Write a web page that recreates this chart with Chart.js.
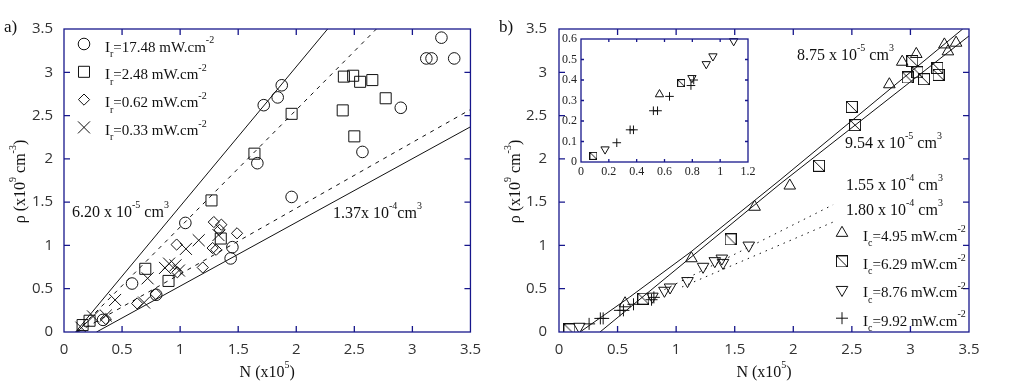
<!DOCTYPE html>
<html>
<head>
<meta charset="utf-8">
<script src="https://cdn.jsdelivr.net/npm/chart.js@4.4.1/dist/chart.umd.min.js"></script>
<style>
html,body{margin:0;padding:0;background:#fff;}
#wrap{position:relative;width:1035px;height:391px;overflow:hidden;background:#fff;}
canvas{position:absolute;display:block;}
</style>
</head>
<body>
<div id="wrap">
<canvas id="chartA" width="490" height="391" style="left:0;top:0"></canvas>
<canvas id="chartB" width="545" height="391" style="left:490px;top:0"></canvas>
<canvas id="chartI" width="230" height="170" style="left:540px;top:20px"></canvas>
</div>
<script>
// ================= DATA =================
const mainTicks   = [0, 0.5, 1, 1.5, 2, 2.5, 3, 3.5];
const insetXTicks = [0, 0.2, 0.4, 0.6, 0.8, 1, 1.2];
const insetYTicks = [0, 0.1, 0.2, 0.3, 0.4, 0.5, 0.6];

// ---- panel a) ----
const aLegendValues = ['17.48', '2.48', '0.62', '0.33'];
// I_r = 17.48 mW.cm-2 (circles)
const aCircleX = [0.336, 0.586, 0.794, 1.045, 1.435, 1.45, 1.665, 1.72, 1.84, 1.875, 1.96, 2.57, 2.90, 3.12, 3.165, 3.25, 3.36];
const aCircleY = [0.14, 0.56, 0.43, 1.26, 0.85, 0.98, 1.95, 2.62, 2.71, 2.85, 1.56, 2.08, 2.59, 3.16, 3.16, 3.40, 3.16];
// I_r = 2.48 mW.cm-2 (squares)
const aSquareX = [0.16, 0.22, 0.70, 0.90, 1.27, 1.35, 1.64, 1.96, 2.40, 2.41, 2.49, 2.50, 2.55, 2.655, 2.77];
const aSquareY = [0.08, 0.13, 0.73, 0.59, 1.52, 1.08, 2.06, 2.52, 2.56, 2.95, 2.96, 2.26, 2.89, 2.91, 2.70];
// I_r = 0.62 mW.cm-2 (diamonds)
const aDiamondX = [0.36, 0.63, 0.79, 0.97, 0.976, 1.195, 1.28, 1.29, 1.31, 1.34, 1.355, 1.49];
const aDiamondY = [0.15, 0.33, 0.44, 1.01, 0.69, 0.745, 0.97, 1.27, 0.95, 1.18, 1.24, 1.14];
// I_r = 0.33 mW.cm-2 (crosses)
const aCrossX = [0.15, 0.25, 0.36, 0.44, 0.69, 0.72, 0.87, 0.905, 0.96, 0.99, 1.05, 1.16, 1.33];
const aCrossY = [0.05, 0.18, 0.19, 0.37, 0.34, 0.62, 0.74, 0.79, 0.77, 0.71, 0.96, 1.06, 1.12];
// fitted lines
const aFitSteepX   = [0.10, 2.27];  const aFitSteepY   = [0, 3.5];   // 6.20e-5 cm3 (solid)
const aFitDashHiX  = [0.105, 2.69]; const aFitDashHiY  = [0, 3.5];   // dashed
const aFitDashLoX  = [0.12, 3.5];   const aFitDashLoY  = [0, 2.57];  // dashed
const aFitShallowX = [0.28, 3.5];   const aFitShallowY = [0, 2.37];  // 1.37e-4 cm3 (solid)

// ---- panel b) ----
const bLegendValues = ['4.95', '6.29', '8.76', '9.92'];
// I_c = 4.95 (up triangles)
const bTriUpX = [0.564, 1.13, 1.67, 1.97, 2.82, 2.93, 3.05, 3.29, 3.32, 3.39];
const bTriUpY = [0.33, 0.85, 1.445, 1.69, 2.86, 3.12, 3.21, 3.32, 3.24, 3.34];
// I_c = 6.29 (squares with diagonal)
const bSquareX = [0.089, 0.72, 1.465, 2.22, 2.50, 2.527, 2.977, 3.016, 3.06, 3.116, 3.23, 3.24];
const bSquareY = [0.03, 0.385, 1.07, 1.92, 2.60, 2.39, 2.94, 3.13, 3.00, 2.92, 3.05, 2.97];
// I_c = 8.76 (down triangles)
const bTriDownX = [0.173, 0.797, 0.90, 0.948, 1.097, 1.23, 1.33, 1.39, 1.40, 1.62];
const bTriDownY = [0.062, 0.41, 0.478, 0.516, 0.59, 0.755, 0.82, 0.85, 0.80, 1.00];
// I_c = 9.92 (plus)
const bPlusX = [0.257, 0.353, 0.377, 0.52, 0.55, 0.636, 0.79, 0.81];
const bPlusY = [0.094, 0.157, 0.157, 0.25, 0.25, 0.32, 0.373, 0.40];
// fitted lines
const bFit1X = [0.18, 0.6, 1.13, 1.887, 3.446]; const bFit1Y = [0, 0.40, 0.93, 1.756, 3.5]; // 8.75e-5
const bFit2X = [0.35, 1.887, 3.5];              const bFit2Y = [0, 1.71, 3.42];             // 9.54e-5
const bFit3X = [0.9, 2.34];                     const bFit3Y = [0.49, 1.47];                // 1.55e-4
const bFit4X = [1.05, 2.34];                    const bFit4Y = [0.52, 1.27];                // 1.80e-4

// ================= STYLE / HELPERS =================
const FRAME = '#17178c';
const INK = '#111';
const SERIF = '"Liberation Serif", "DejaVu Serif", serif';
const SANS = '"Open Sans", "DejaVu Sans", sans-serif';

function pts(X, Y, filter) {
  const out = [];
  for (let i = 0; i < X.length; i++) if (!filter || filter(X[i], Y[i])) out.push({x: X[i], y: Y[i]});
  return out;
}
function markerDs(X, Y, style, r, rot, filter) {
  return {data: pts(X, Y, filter), showLine: false, pointStyle: style, pointRadius: r, pointHoverRadius: r,
    pointRotation: rot || 0, borderColor: INK, backgroundColor: 'rgba(0,0,0,0)',
    pointBorderColor: INK, pointBackgroundColor: 'rgba(0,0,0,0)', pointBorderWidth: 1};
}
function lineDs(X, Y, dash) {
  return {data: pts(X, Y), showLine: true, pointRadius: 0, pointHoverRadius: 0, borderColor: INK,
    borderWidth: 1, borderDash: dash || [], tension: 0, fill: false};
}
function makeSq(s) {
  const c = document.createElement('canvas'); c.width = s; c.height = s;
  const g = c.getContext('2d'); g.strokeStyle = INK; g.lineWidth = 1;
  g.strokeRect(0.5, 0.5, s - 1, s - 1);
  g.beginPath(); g.moveTo(0.5, 0.5); g.lineTo(s - 0.5, s - 0.5); g.stroke();
  return c;
}
const sqBig = makeSq(12), sqSmall = makeSq(8);

function richText(ctx, x, y, parts, size, align) {
  const big = size + 'px ' + SERIF, small = Math.round(size * 0.64) + 'px ' + SERIF;
  let total = 0;
  parts.forEach(p => { ctx.font = p[1] ? small : big; total += ctx.measureText(p[0]).width; });
  let cx = align === 'center' ? x - total / 2 : x;
  ctx.textAlign = 'left'; ctx.textBaseline = 'alphabetic';
  parts.forEach(p => {
    ctx.font = p[1] ? small : big;
    const dy = p[1] === 1 ? -size * 0.55 : (p[1] === -1 ? size * 0.37 : 0);
    ctx.fillText(p[0], cx, y + dy);
    cx += ctx.measureText(p[0]).width;
  });
}
function legendMarker(ctx, style, r, rot, x, y) {
  ctx.save(); ctx.strokeStyle = INK; ctx.fillStyle = 'rgba(0,0,0,0)'; ctx.lineWidth = 1;
  Chart.helpers.drawPoint(ctx, {pointStyle: style, radius: r, rotation: rot || 0, borderWidth: 1}, x, y);
  ctx.restore();
}

function framePlugin(len, fillWhite) {
  return {
    id: 'frame',
    beforeDatasetsDraw(chart) {
      if (!fillWhite) return;
      const a = chart.chartArea, ctx = chart.ctx;
      ctx.save(); ctx.fillStyle = '#fff'; ctx.fillRect(a.left, a.top, a.right - a.left, a.bottom - a.top); ctx.restore();
    },
    afterDatasetsDraw(chart) {
      const a = chart.chartArea, ctx = chart.ctx, sx = chart.scales.x, sy = chart.scales.y;
      ctx.save(); ctx.strokeStyle = FRAME; ctx.lineWidth = 1.3;
      ctx.strokeRect(a.left, a.top, a.right - a.left, a.bottom - a.top);
      ctx.beginPath();
      sx.ticks.forEach(t => {
        const p = sx.getPixelForValue(t.value);
        if (p > a.left + 1 && p < a.right - 1) {
          ctx.moveTo(p, a.bottom); ctx.lineTo(p, a.bottom - len);
          ctx.moveTo(p, a.top); ctx.lineTo(p, a.top + len);
        }
      });
      sy.ticks.forEach(t => {
        const p = sy.getPixelForValue(t.value);
        if (p > a.top + 1 && p < a.bottom - 1) {
          ctx.moveTo(a.left, p); ctx.lineTo(a.left + len, p);
          ctx.moveTo(a.right, p); ctx.lineTo(a.right - len, p);
        }
      });
      ctx.stroke(); ctx.restore();
    }
  };
}

function axes(ticksX, ticksY, minX, maxX, minY, maxY, yWidth, xHeight, font, padX, padY, color) {
  const tk = arr => (s => { s.ticks = arr.map(v => ({value: v})); });
  return {
    x: {type: 'linear', min: minX, max: maxX, afterBuildTicks: tk(ticksX),
        ticks: {callback: v => String(v), font: font, color: color, padding: padX, maxRotation: 0, autoSkip: false},
        grid: {display: false, drawTicks: false}, border: {display: false},
        afterFit(s) { s.height = xHeight; }},
    y: {type: 'linear', min: minY, max: maxY, afterBuildTicks: tk(ticksY),
        ticks: {callback: v => String(v), font: font, color: color, padding: padY, autoSkip: false},
        grid: {display: false, drawTicks: false}, border: {display: false},
        afterFit(s) { s.width = yWidth; }}
  };
}
const baseOpts = {responsive: false, animation: false, devicePixelRatio: 1, events: [],
  plugins: {legend: {display: false}, tooltip: {enabled: false}}};

function axisTitles(ctx, a, xBaseline, yBaseline) {
  ctx.fillStyle = INK;
  richText(ctx, (a.left + a.right) / 2, xBaseline, [['N (x10', 0], ['5', 1], [')', 0]], 16, 'center');
  ctx.save();
  ctx.translate(yBaseline, (a.top + a.bottom) / 2 + 1);
  ctx.rotate(-Math.PI / 2);
  richText(ctx, 0, 0, [['ρ (x10', 0], ['9', 1], [' cm', 0], ['-3', 1], [')', 0]], 16, 'center');
  ctx.restore();
}

// ================= PANEL A =================
new Chart(document.getElementById('chartA'), {
  type: 'scatter',
  data: {datasets: [
    lineDs(aFitSteepX, aFitSteepY),
    lineDs(aFitDashHiX, aFitDashHiY, [4, 5]),
    lineDs(aFitDashLoX, aFitDashLoY, [4, 5]),
    lineDs(aFitShallowX, aFitShallowY),
    markerDs(aCircleX, aCircleY, 'circle', 5.8),
    markerDs(aSquareX, aSquareY, 'rect', 7.8),
    markerDs(aDiamondX, aDiamondY, 'rectRot', 5.6),
    markerDs(aCrossX, aCrossY, 'crossRot', 8.5)
  ]},
  options: Object.assign({}, baseOpts, {
    layout: {padding: {left: 0, right: 16, top: 29, bottom: 0}},
    scales: axes(mainTicks, mainTicks, 0, 3.5, 0, 3.5, 64, 59, {family: SANS, size: 15}, 9, 11, '#333')
  }),
  plugins: [framePlugin(6, false), {
    id: 'decoA',
    afterDraw(chart) {
      const ctx = chart.ctx, a = chart.chartArea;
      ctx.save(); ctx.fillStyle = INK;
      ctx.font = '17px ' + SERIF; ctx.textBaseline = 'alphabetic'; ctx.textAlign = 'left';
      ctx.fillText('a)', 4, 32);
      const styles = [['circle', 5.8, 0], ['rect', 7.8, 0], ['rectRot', 5.6, 0], ['crossRot', 8.5, 0]];
      aLegendValues.forEach((v, i) => {
        const yy = 44 + i * 27.8;
        legendMarker(ctx, styles[i][0], styles[i][1], styles[i][2], 84, yy);
        ctx.fillStyle = INK;
        richText(ctx, 105, yy + 7.5, [['I', 0], ['r', -1], ['=' + v + ' mW.cm', 0], ['-2', 1]], 15);
      });
      richText(ctx, 72, 217, [['6.20 x 10', 0], ['-5', 1], [' cm', 0], ['3', 1]], 16);
      richText(ctx, 333, 218, [['1.37x 10', 0], ['-4', 1], ['cm', 0], ['3', 1]], 16);
      axisTitles(ctx, a, 377, 25);
      ctx.restore();
    }
  }]
});

// ================= PANEL B =================
new Chart(document.getElementById('chartB'), {
  type: 'scatter',
  data: {datasets: [
    lineDs(bFit1X, bFit1Y),
    lineDs(bFit2X, bFit2Y),
    lineDs(bFit3X, bFit3Y, [1.5, 5]),
    lineDs(bFit4X, bFit4Y, [1.5, 5]),
    markerDs(bTriUpX, bTriUpY, 'triangle', 6.7),
    markerDs(bSquareX, bSquareY, sqBig, 6),
    markerDs(bTriDownX, bTriDownY, 'triangle', 6.7, 180),
    markerDs(bPlusX, bPlusY, 'cross', 6)
  ]},
  options: Object.assign({}, baseOpts, {
    layout: {padding: {left: 0, right: 66, top: 29, bottom: 0}},
    scales: axes(mainTicks, mainTicks, 0, 3.5, 0, 3.5, 69, 59, {family: SANS, size: 15}, 9, 12, '#333')
  }),
  plugins: [framePlugin(6, false), {
    id: 'decoB',
    afterDraw(chart) {
      const ctx = chart.ctx, a = chart.chartArea;
      ctx.save(); ctx.fillStyle = INK;
      ctx.font = '17px ' + SERIF; ctx.textBaseline = 'alphabetic'; ctx.textAlign = 'left';
      ctx.fillText('b)', 9, 32);
      const styles = [['triangle', 6.7, 0], [sqBig, 6, 0], ['triangle', 6.7, 180], ['cross', 6, 0]];
      bLegendValues.forEach((v, i) => {
        const yy = 233 + i * 28.4;
        legendMarker(ctx, styles[i][0], styles[i][1], styles[i][2], 352, yy);
        ctx.fillStyle = INK;
        richText(ctx, 373, yy + 7.5, [['I', 0], ['c', -1], ['=' + v + ' mW.cm', 0], ['-2', 1]], 15);
      });
      richText(ctx, 307, 60, [['8.75 x 10', 0], ['-5', 1], [' cm', 0], ['3', 1]], 16);
      richText(ctx, 355, 148, [['9.54 x 10', 0], ['-5', 1], [' cm', 0], ['3', 1]], 16);
      richText(ctx, 356, 190, [['1.55 x 10', 0], ['-4', 1], [' cm', 0], ['3', 1]], 16);
      richText(ctx, 356, 215, [['1.80 x 10', 0], ['-4', 1], [' cm', 0], ['3', 1]], 16);
      axisTitles(ctx, a, 377, 30);
      ctx.restore();
    }
  }]
});

// ================= INSET =================
const inInset = (x, y) => x <= 1.2 && y <= 0.6;
new Chart(document.getElementById('chartI'), {
  type: 'scatter',
  data: {datasets: [
    markerDs(bTriUpX, bTriUpY, 'triangle', 4.8, 0, inInset),
    markerDs(bSquareX, bSquareY, sqSmall, 4, 0, inInset),
    markerDs(bTriDownX, bTriDownY, 'triangle', 4.8, 180, inInset),
    markerDs(bPlusX, bPlusY, 'cross', 4.3, 0, inInset)
  ].map(d => Object.assign(d, {clip: false}))},
  options: Object.assign({}, baseOpts, {
    layout: {padding: {left: 0, right: 22, top: 19, bottom: 0}},
    scales: axes(insetXTicks, insetYTicks, 0, 1.2, 0, 0.6, 41, 28, {family: SERIF, size: 12}, 3, 4, '#222')
  }),
  plugins: [framePlugin(3, true)]
});
</script>
</body>
</html>
